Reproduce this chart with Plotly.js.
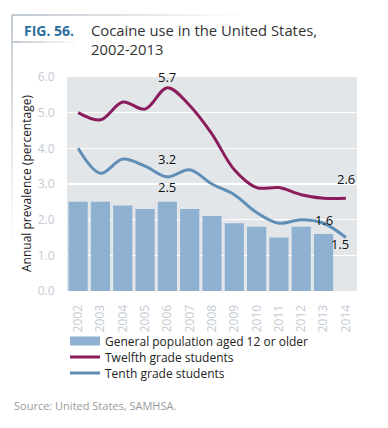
<!DOCTYPE html>
<html>
<head>
<meta charset="utf-8">
<script src="https://cdn.plot.ly/plotly-3.0.1.min.js"></script>
<style>body{margin:0;background:#fff}#chart{width:388px;height:428px}</style>
</head>
<body>
<div id="chart"></div>
<script>
var years = ['2002','2003','2004','2005','2006','2007','2008','2009','2010','2011','2012','2013','2014'];
var generalPop = [2.5,2.5,2.4,2.3,2.5,2.3,2.1,1.9,1.8,1.5,1.8,1.6,null];
var twelfthGrade = [5.0,4.8,5.3,5.1,5.7,5.2,4.4,3.4,2.9,2.9,2.7,2.6,2.6];
var tenthGrade = [4.0,3.3,3.7,3.5,3.2,3.4,3.0,2.7,2.2,1.9,2.0,1.9,1.5];
var yTicks = [0,1,2,3,4,5,6];

var W = 388, H = 428, L = 67, R = 31, T = 77, B = 137;
var pw = W - L - R, ph = H - T - B;
function px(x){ return (x - L) / pw; }
function py(y){ return (H - B - y) / ph; }

var cBar = '#8eb1d2', c12 = '#8b1d5d', c10 = '#5f8fb7';
var font = '"Open Sans", "Noto Sans", sans-serif';

var traces = [
  {type:'bar', x:years, y:generalPop, marker:{color:cBar}, showlegend:false, hoverinfo:'none'},
  {type:'scatter', mode:'lines', x:[null], y:[null], name:'General population aged 12 or older',
   line:{color:cBar, width:9}, hoverinfo:'none', legend:'legend'},
  {type:'scatter', mode:'lines', x:years, y:twelfthGrade, name:'Twelfth grade students',
   line:{color:c12, width:3, shape:'spline', smoothing:1}, legend:'legend2'},
  {type:'scatter', mode:'lines', x:years, y:tenthGrade, name:'Tenth grade students',
   line:{color:c10, width:3, shape:'spline', smoothing:1}, legend:'legend3'}
];

var lblFont = {family:font, size:13, color:'#111'};
function valLabel(xi, yv, xs, ys){
  return {x:xi, y:yv, xref:'x', yref:'y', text:yv.toFixed(1), showarrow:false,
          xshift:xs, yshift:ys, font:lblFont};
}

var annotations = [
  valLabel(4, twelfthGrade[4], 0, 11),
  valLabel(4, tenthGrade[4], 0, 18),
  valLabel(4, generalPop[4], 0, 15),
  valLabel(12, twelfthGrade[12], 0, 19),
  valLabel(11, generalPop[11], 0, 14),
  valLabel(12, tenthGrade[12], -6, -6),
  {xref:'paper', yref:'paper', x:px(22), y:py(30), xanchor:'left', yanchor:'middle', showarrow:false,
   text:'<b>FIG. 56.</b>', font:{family:font, size:14, color:'#2e6e9e'}},
  {xref:'paper', yref:'paper', x:px(89), y:py(39), xanchor:'left', yanchor:'middle', showarrow:false, align:'left',
   text:'Cocaine use in the United States,<br>2002-2013', font:{family:font, size:14.8, color:'#333'}},
  {xref:'paper', yref:'paper', x:px(26), y:py(184), xanchor:'center', yanchor:'middle', showarrow:false,
   textangle:-90, text:'Annual prevalence (percentage)', font:{family:font, size:12, color:'#1a1a1a'}},
  {xref:'paper', yref:'paper', x:px(12), y:py(405), xanchor:'left', yanchor:'middle', showarrow:false,
   text:'Source: United States, SAMHSA.', font:{family:font, size:11, color:'#9a9a9a'}}
];

var shapes = [];
function fadeLine(x0,y0,x1,y1,n){
  for (var i=0;i<n;i++){
    var a = i/n, b = (i+1)/n;
    shapes.push({type:'line', xref:'paper', yref:'paper',
      x0:px(x0+(x1-x0)*a), y0:py(y0+(y1-y0)*a), x1:px(x0+(x1-x0)*b), y1:py(y0+(y1-y0)*b),
      line:{color:'rgba(190,198,206,'+(0.9*(1-a)).toFixed(3)+')', width:2}});
  }
}
fadeLine(12,15,240,15,12);
fadeLine(12,42,75,42,6);
fadeLine(12,15,12,240,12);

function legendAt(yc){
  return {x:px(65), y:py(yc), xanchor:'left', yanchor:'middle', bgcolor:'rgba(0,0,0,0)',
          font:{family:font, size:12, color:'#222'}, itemwidth:30, borderwidth:0};
}

var layout = {
  width:W, height:H,
  margin:{l:L, r:R, t:T, b:B, pad:0},
  paper_bgcolor:'#fff', plot_bgcolor:'#e3e6e9',
  font:{family:font},
  bargap:0.14,
  showlegend:true,
  legend:legendAt(341),
  legend2:legendAt(357),
  legend3:legendAt(373),
  xaxis:{type:'category', categoryarray:years, range:[-0.5,12.5], tickangle:-90,
         tickfont:{family:font, size:12, color:'#c5cad2'}, ticks:'outside', ticklen:8,
         tickcolor:'rgba(0,0,0,0)', showgrid:false, zeroline:false, showline:false, fixedrange:true},
  yaxis:{range:[0,6], tickvals:yTicks, tickformat:'.1f', gridcolor:'#ffffff', gridwidth:1.5,
         tickfont:{family:font, size:12, color:'#c5cad2'}, ticks:'outside', ticklen:9,
         tickcolor:'rgba(0,0,0,0)', zeroline:false, showline:false, fixedrange:true},
  annotations:annotations,
  shapes:shapes
};

Plotly.newPlot('chart', traces, layout, {displayModeBar:false, staticPlot:true});
</script>
</body>
</html>
